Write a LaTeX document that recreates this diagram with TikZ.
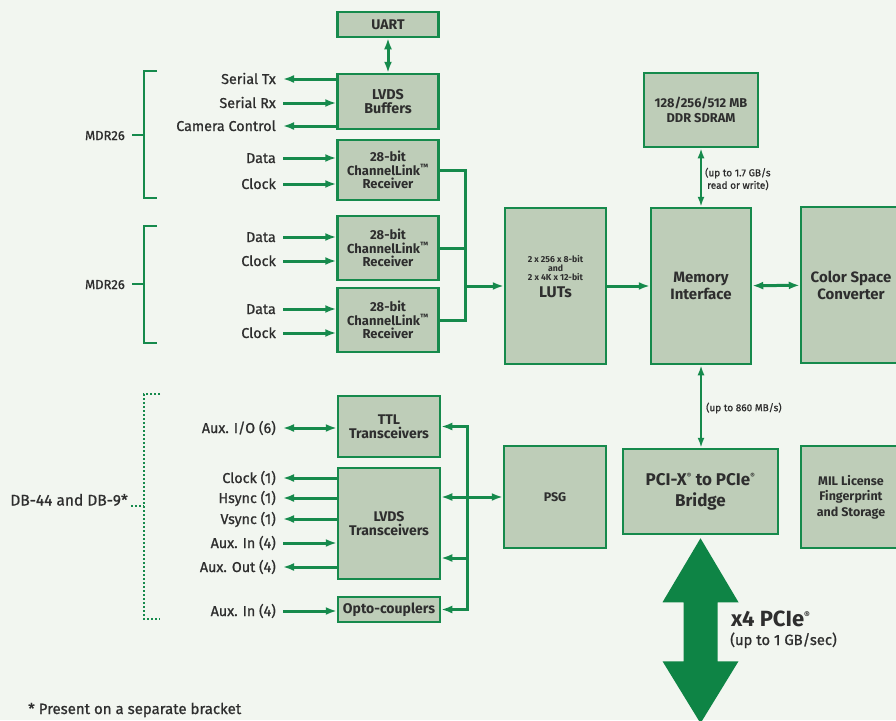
\documentclass[tikz,border=0pt]{standalone}
\usepackage{fontspec}
\setmainfont{Fira Sans}
\newfontfamily\medio{Fira Sans}[FakeBold=0.9]
\usetikzlibrary{arrows.meta}
\definecolor{sfondo}{HTML}{F2F6F0}
\definecolor{verde}{HTML}{168A4C}
\definecolor{scuro}{HTML}{0E8445}
\definecolor{riemp}{HTML}{BECDB8}
\definecolor{testo}{HTML}{2E2E2E}
\newcommand{\reg}{\textsuperscript{\fontsize{7}{7}\selectfont ®}}
\tikzset{punta/.tip={Latex[length=11pt,width=8pt]}, puntina/.tip={Latex[length=10pt,width=7pt]}}
\begin{document}
\begin{tikzpicture}[x=1pt, y=-1pt,
		blocco/.style={draw=verde, fill=riemp, line width=2.5pt, text=testo, align=center, inner sep=0pt, font=\bfseries\fontsize{14}{14}\selectfont},
		etich/.style={text=testo, inner ysep=0pt, inner xsep=7pt, text height=10pt, text depth=0pt, font=\medio\fontsize{14.3}{14}\selectfont},
		fr/.style={draw=verde, line width=3pt, -punta},
		fr2/.style={draw=verde, line width=3pt, punta-punta},
		sottile/.style={draw=verde, line width=2pt, puntina-puntina},
		linea/.style={draw=verde, line width=3pt},
		punti/.style={draw=verde, line width=2.2pt, dash pattern=on 2pt off 2pt},
		nota/.style={text=testo, font=\medio\fontsize{10}{12.5}\selectfont, align=center, inner sep=0pt}]

	\useasboundingbox (0,0) rectangle (896,720);
	\clip (0,0) rectangle (896,720);
	\fill[sfondo] (0,0) rectangle (896,720);

	% blocchi
	\node[blocco, minimum width=101pt, minimum height=25pt] (uart) at (388,24.5) {UART};
	\node[blocco, minimum width=101pt, minimum height=55pt, font=\bfseries\fontsize{14.3}{14}\selectfont] (buf) at (388,101.5) {LVDS\\Buffers};
	\node[blocco, minimum width=101pt, minimum height=60pt, font=\bfseries\fontsize{13}{13.5}\selectfont] (rx1) at (388,170) {28-bit\\ChannelLink\textsuperscript{™}\\Receiver};
	\node[blocco, minimum width=101pt, minimum height=64pt, font=\bfseries\fontsize{13}{13.5}\selectfont] (rx2) at (388,248) {28-bit\\ChannelLink\textsuperscript{™}\\Receiver};
	\node[blocco, minimum width=101pt, minimum height=64pt, font=\bfseries\fontsize{13}{13.5}\selectfont] (rx3) at (388,320) {28-bit\\ChannelLink\textsuperscript{™}\\Receiver};
	\node[blocco, minimum width=101pt, minimum height=156pt] (luts) at (555.5,286) {};
	\node[nota, font=\bfseries\fontsize{8.7}{9}\selectfont] (luttxt) at (555.5,277) {2 x 256 x 8-bit\\and\\2 x 4K x 12-bit\\[5pt]\fontsize{15.5}{15}\selectfont LUTs};
	\node[blocco, minimum width=100pt, minimum height=156pt, font=\bfseries\fontsize{15}{17}\selectfont] (mem) at (701,286) {Memory\\Interface};
	\node[blocco, minimum width=100pt, minimum height=156pt, font=\bfseries\fontsize{15}{17}\selectfont] (csc) at (851,285) {Color Space\\Converter};
	\node[blocco, minimum width=114pt, minimum height=74pt, font=\bfseries\fontsize{12.8}{15}\selectfont] (ddr) at (701,110) {128/256/512 MB\\DDR SDRAM};

	\node[blocco, minimum width=102pt, minimum height=61pt] (ttl) at (389,426.5) {TTL\\Transceivers};
	\node[blocco, minimum width=102pt, minimum height=111pt] (lvt) at (389,523.5) {LVDS\\Transceivers};
	\node[blocco, minimum width=102pt, minimum height=25pt] (opto) at (389,609.5) {Opto-couplers};
	\node[blocco, minimum width=102pt, minimum height=102pt, font=\bfseries\fontsize{12.5}{13}\selectfont] (psg) at (555,497) {PSG};
	\node[blocco, minimum width=155pt, minimum height=85pt, font=\bfseries\fontsize{17}{21}\selectfont] (bridge) at (700.5,491.5) {PCI-X\reg{} to PCIe\reg\\Bridge};
	\node[blocco, minimum width=100pt, minimum height=102pt, font=\bfseries\fontsize{12.5}{15.5}\selectfont] (mil) at (851,497) {MIL License\\Fingerprint\\and Storage};

	% etichette a sinistra
	\node[etich, anchor=east] (stx) at (283,79) {Serial Tx};
	\node[etich, anchor=east] (srx) at (283,103) {Serial Rx};
	\node[etich, anchor=east] (cam) at (283,126) {Camera Control};
	\node[etich, anchor=east] (dat1) at (283,158) {Data};
	\node[etich, anchor=east] (clk1) at (283,184) {Clock};
	\node[etich, anchor=east] (dat2) at (283,237) {Data};
	\node[etich, anchor=east] (clk2) at (283,261) {Clock};
	\node[etich, anchor=east] (dat3) at (283,309) {Data};
	\node[etich, anchor=east] (clk3) at (283,333) {Clock};

	\node[etich, anchor=east] (aio) at (283,428) {Aux. I/O (6)};
	\node[etich, anchor=east] (clkb) at (283,478) {Clock (1)};
	\node[etich, anchor=east] (hs) at (283,498) {Hsync (1)};
	\node[etich, anchor=east] (vs) at (283,519) {Vsync (1)};
	\node[etich, anchor=east] (ain) at (283,543) {Aux. In (4)};
	\node[etich, anchor=east] (aout) at (283,567) {Aux. Out (4)};
	\node[etich, anchor=east] (ain2) at (283,611) {Aux. In (4)};

	\node[etich, anchor=east, font=\medio\fontsize{13}{13}\selectfont] (mdr1) at (132,135) {MDR26};
	\node[etich, anchor=east, font=\medio\fontsize{13}{13}\selectfont] (mdr2) at (132,284) {MDR26};
	\node[etich, anchor=east, inner xsep=3pt, text height=11pt, font=\medio\fontsize{15.5}{15}\selectfont] (db) at (131,500) {DB-44 and DB-9*};

	% parentesi
	\coordinate (m1) at (144,135);
	\coordinate (m2) at (144,284);
	\coordinate (d1) at (144,506);
	\draw[linea, line width=2.5pt] (157,71) -| (m1) |- (157,198);
	\draw[linea, line width=2.5pt] (157,226) -| (m2) |- (157,343);
	\draw[linea, line width=2.5pt] (mdr1) -- (m1);
	\draw[linea, line width=2.5pt] (mdr2) -- (m2);
	\draw[punti] (160,394) -| (d1) |- (160,619);
	\draw[punti] (db.east |- d1) -- (d1);

	% frecce ingressi / uscite
	\draw[fr2] (uart) -- (buf);
	\draw[fr] (buf.west |- stx) -- (stx);
	\draw[fr] (srx) -- (buf.west |- srx);
	\draw[fr] (buf.west |- cam) -- (cam);
	\draw[fr] (dat1) -- (rx1.west |- dat1);
	\draw[fr] (clk1) -- (rx1.west |- clk1);
	\draw[fr] (dat2) -- (rx2.west |- dat2);
	\draw[fr] (clk2) -- (rx2.west |- clk2);
	\draw[fr] (dat3) -- (rx3.west |- dat3);
	\draw[fr] (clk3) -- (rx3.west |- clk3);

	\draw[fr2] (aio) -- (ttl.west |- aio);
	\draw[fr] (lvt.west |- clkb) -- (clkb);
	\draw[fr] (lvt.west |- hs) -- (hs);
	\draw[fr] (lvt.west |- vs) -- (vs);
	\draw[fr] (ain) -- (lvt.west |- ain);
	\draw[fr] (lvt.west |- aout) -- (aout);
	\draw[fr] (ain2) -- (opto.west |- ain2);

	% bus ricevitori
	\coordinate (sbus) at (465,286);
	\draw[linea] (rx1.east) -| (sbus);
	\draw[linea] (rx2.east) -| (sbus);
	\draw[linea] (rx3.east) -| (sbus);
	\draw[fr] (sbus) -- (luts);
	\draw[fr] (luts) -- (mem);
	\draw[fr2] (mem) -- (csc);

	% memoria
	\draw[sottile] (ddr) -- (mem);
	\node[nota, anchor=west] (banda1) at (705,179) {(up to 1.7 GB/s\\read or write)};
	\draw[sottile] (mem.south) -- (mem.south |- bridge.north);
	\node[nota, anchor=west] (banda2) at (706,408) {(up to 860 MB/s)};

	% bus PSG
	\coordinate (pbus) at (467,497);
	\draw[fr2] (lvt.east |- psg) -- (psg);
	\draw[fr] (pbus) |- (ttl);
	\draw[fr] (pbus) |- ([yshift=-34.5pt]lvt.east);
	\draw[fr] (pbus) |- (opto);

	% freccia PCIe
	\fill[scuro] ([yshift=-3pt]bridge.south) -- ++(38,64) -- ++(-21,0) -- ++(0,59) -- ++(21,0)
		-- ++(-38,62) -- ++(-38,-62) -- ++(21,0) -- ++(0,-59) -- ++(-21,0) -- cycle;
	\node[text=testo, anchor=base west, inner sep=0pt, font=\bfseries\fontsize{22}{22}\selectfont] (pcie) at (731,626) {x4 PCIe\textsuperscript{\fontsize{9}{9}\selectfont ®}};
	\node[text=testo, anchor=base west, inner sep=0pt, font=\medio\fontsize{14.8}{14}\selectfont] (gbs) at (730,645) {(up to 1 GB/sec)};

	\node[text=testo, anchor=base west, inner sep=0pt, font=\medio\fontsize{15}{14}\selectfont] (asterisco) at (28,714) {* Present on a separate bracket};
\end{tikzpicture}
\end{document}
